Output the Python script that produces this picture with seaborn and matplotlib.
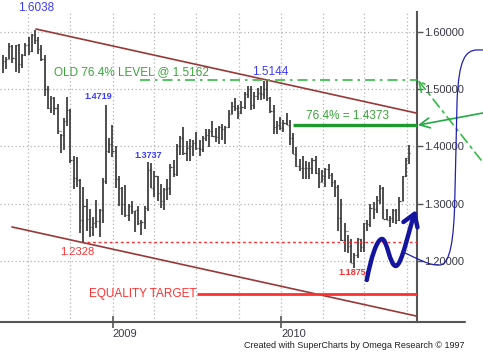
import matplotlib
matplotlib.use("Agg")
import matplotlib.dates as mdates
import matplotlib.pyplot as plt
import numpy as np
import pandas as pd
import seaborn as sns
from matplotlib.lines import Line2D
from matplotlib.patches import FancyArrowPatch
from matplotlib.path import Path

# Weekly EUR/USD bars, one per week, first week starting Monday 2008-05-05
first_week = "2008-05-05"
opens = [1.5460, 1.5485, 1.5535, 1.5760, 1.5545, 1.5770, 1.5440, 1.5600, 1.5780, 1.5675,
         1.5940, 1.5865, 1.5705, 1.5525, 1.5005, 1.4680, 1.4850, 1.4670, 1.4270, 1.4195,
         1.4445, 1.4630, 1.3760, 1.3450, 1.3420, 1.2710, 1.2960, 1.2740, 1.2590, 1.2660,
         1.2700, 1.2890, 1.3390, 1.3920, 1.4050, 1.3920, 1.3440, 1.3270, 1.2990, 1.2800,
         1.2960, 1.2880, 1.2890, 1.2670, 1.2680, 1.2930, 1.3590, 1.3280, 1.3480, 1.3180,
         1.3040, 1.3250, 1.3270, 1.3640, 1.3520, 1.4000, 1.4140, 1.3880, 1.3970, 1.4000,
         1.4060, 1.3970, 1.3960, 1.4140, 1.4200, 1.4270, 1.4190, 1.4170, 1.4340, 1.4300,
         1.4340, 1.4570, 1.4700, 1.4680, 1.4580, 1.4690, 1.4910, 1.5000, 1.4720, 1.4890,
         1.4930, 1.4920, 1.5010, 1.4840, 1.4620, 1.4340, 1.4380, 1.4330, 1.4410, 1.4380,
         1.4140, 1.3870, 1.3660, 1.3630, 1.3620, 1.3630, 1.3630, 1.3770, 1.3530, 1.3380,
         1.3480, 1.3600, 1.3500, 1.3380, 1.3290, 1.2750, 1.2370, 1.2530, 1.2270, 1.1960,
         1.2110, 1.2390, 1.2240, 1.2660, 1.2640, 1.2930, 1.2910, 1.3060, 1.3280, 1.2740,
         1.2710, 1.2750, 1.2890, 1.2710, 1.3050, 1.3490, 1.3790]
highs = [1.5590, 1.5560, 1.5810, 1.5780, 1.5780, 1.5790, 1.5620, 1.5800, 1.5915, 1.5960,
         1.6038, 1.5920, 1.5770, 1.5600, 1.5050, 1.4880, 1.4860, 1.4740, 1.4215, 1.4495,
         1.4865, 1.4660, 1.3830, 1.3810, 1.3440, 1.3300, 1.3090, 1.2910, 1.2770, 1.3070,
         1.2900, 1.3455, 1.4719, 1.4150, 1.4370, 1.4000, 1.3480, 1.3290, 1.3320, 1.3000,
         1.3050, 1.2880, 1.2960, 1.2720, 1.2960, 1.3737, 1.3720, 1.3580, 1.3480, 1.3350,
         1.3270, 1.3440, 1.3690, 1.3770, 1.4050, 1.4180, 1.4340, 1.4100, 1.4130, 1.4110,
         1.4260, 1.4110, 1.4190, 1.4300, 1.4300, 1.4450, 1.4330, 1.4350, 1.4390, 1.4360,
         1.4640, 1.4770, 1.4840, 1.4720, 1.4790, 1.4960, 1.5060, 1.5060, 1.4950, 1.5020,
         1.5060, 1.5144, 1.5140, 1.4870, 1.4720, 1.4440, 1.4510, 1.4460, 1.4580, 1.4460,
         1.4240, 1.3990, 1.3780, 1.3830, 1.3740, 1.3730, 1.3790, 1.3830, 1.3620, 1.3590,
         1.3620, 1.3700, 1.3530, 1.3420, 1.3330, 1.3090, 1.2670, 1.2450, 1.2380, 1.2140,
         1.2400, 1.2390, 1.2660, 1.2720, 1.2990, 1.3030, 1.3130, 1.3330, 1.3290, 1.2900,
         1.2780, 1.2900, 1.2910, 1.3120, 1.3490, 1.3790, 1.4030]
lows = [1.5285, 1.5350, 1.5520, 1.5460, 1.5300, 1.5285, 1.5375, 1.5580, 1.5605, 1.5650,
        1.5785, 1.5620, 1.5485, 1.4880, 1.4660, 1.4580, 1.4545, 1.4210, 1.3885, 1.3945,
        1.4360, 1.3720, 1.3260, 1.3290, 1.2490, 1.2328, 1.2520, 1.2420, 1.2430, 1.2580,
        1.2420, 1.2660, 1.3340, 1.3880, 1.3820, 1.3280, 1.2960, 1.2800, 1.2770, 1.2700,
        1.2820, 1.2510, 1.2620, 1.2460, 1.2560, 1.2880, 1.3270, 1.3110, 1.3040, 1.2930,
        1.2890, 1.3060, 1.3160, 1.3470, 1.3490, 1.3850, 1.3850, 1.3740, 1.3750, 1.3830,
        1.3930, 1.3840, 1.3900, 1.4090, 1.3990, 1.4170, 1.4070, 1.4040, 1.4110, 1.4050,
        1.4320, 1.4560, 1.4620, 1.4480, 1.4560, 1.4650, 1.4850, 1.4630, 1.4660, 1.4810,
        1.4820, 1.4830, 1.4800, 1.4580, 1.4220, 1.4220, 1.4290, 1.4260, 1.4370, 1.4030,
        1.3860, 1.3640, 1.3580, 1.3440, 1.3440, 1.3430, 1.3520, 1.3520, 1.3270, 1.3380,
        1.3300, 1.3430, 1.3300, 1.3110, 1.2520, 1.2350, 1.2150, 1.2140, 1.1960, 1.1875,
        1.2050, 1.2160, 1.2150, 1.2520, 1.2590, 1.2730, 1.2840, 1.3000, 1.2730, 1.2710,
        1.2590, 1.2660, 1.2640, 1.2690, 1.3040, 1.3470, 1.3690]
closes = [1.5485, 1.5535, 1.5760, 1.5545, 1.5770, 1.5440, 1.5600, 1.5780, 1.5675, 1.5940,
          1.5865, 1.5705, 1.5525, 1.5005, 1.4680, 1.4850, 1.4670, 1.4270, 1.4195, 1.4445,
          1.4630, 1.3760, 1.3450, 1.3420, 1.2710, 1.2960, 1.2740, 1.2590, 1.2660, 1.2700,
          1.2890, 1.3390, 1.3920, 1.4050, 1.3920, 1.3440, 1.3270, 1.2990, 1.2800, 1.2960,
          1.2880, 1.2890, 1.2670, 1.2680, 1.2930, 1.3590, 1.3280, 1.3480, 1.3180, 1.3040,
          1.3250, 1.3270, 1.3640, 1.3520, 1.4000, 1.4140, 1.3880, 1.3970, 1.4000, 1.4060,
          1.3970, 1.3960, 1.4140, 1.4200, 1.4270, 1.4190, 1.4170, 1.4340, 1.4300, 1.4340,
          1.4570, 1.4700, 1.4680, 1.4580, 1.4690, 1.4910, 1.5000, 1.4720, 1.4890, 1.4930,
          1.4920, 1.5010, 1.4840, 1.4620, 1.4340, 1.4380, 1.4330, 1.4410, 1.4380, 1.4140,
          1.3870, 1.3660, 1.3630, 1.3620, 1.3630, 1.3630, 1.3770, 1.3530, 1.3380, 1.3480,
          1.3600, 1.3500, 1.3380, 1.3290, 1.2750, 1.2370, 1.2530, 1.2270, 1.1960, 1.2110,
          1.2390, 1.2240, 1.2660, 1.2640, 1.2930, 1.2910, 1.3060, 1.3280, 1.2740, 1.2710,
          1.2750, 1.2890, 1.2710, 1.3050, 1.3490, 1.3790, 1.3880]

price_ticks = [1.2, 1.3, 1.4, 1.5, 1.6]
year_ticks = ["2009-01-01", "2010-01-01"]
year_labels = ["2009", "2010"]

# key levels
old_level = 1.5162
fib_level = 1.4373
low_level = 1.2328
target_level = 1.1424

# trend channel (two touch points each)
upper_dates = ["2008-07-18", "2010-10-21"]
upper_prices = [1.6052, 1.4585]
lower_dates = ["2008-05-27", "2010-10-21"]
lower_prices = [1.2594, 1.1039]

# projected path drawn by hand on the chart (bezier anchors + controls)
wave_dates = ["2010-07-06", "2010-07-15", "2010-07-28", "2010-08-08", "2010-08-19", "2010-08-25",
              "2010-09-07", "2010-09-20", "2010-10-06", "2010-10-21"]
wave_prices = [1.1668, 1.2052, 1.2384, 1.2384, 1.2384, 1.1913, 1.1913, 1.1913, 1.2576, 1.2891]
brace_dates = ["2010-09-23", "2010-10-25", "2010-11-20", "2010-12-12", "2011-01-03", "2011-01-11",
               "2011-01-13", "2011-01-18", "2011-01-22", "2011-02-04", "2011-03-04", "2011-03-15"]
brace_prices = [1.2157, 1.2035, 1.1913, 1.1930, 1.1948, 1.2367, 1.3066, 1.4812, 1.5511, 1.5686,
                1.5686, 1.5686]

GREEN = "#3aa53a"
RED = "#ff3030"
BLUE = "#3c3cff"
CHANNEL = "#983838"
BAR = "#404040"

sns.set_theme(style="white")
plt.rcParams["font.family"] = ["Liberation Sans", "DejaVu Sans"]

d = mdates.datestr2num
weeks = pd.date_range(first_week, periods=len(highs), freq="7D")
xb = mdates.date2num(weeks) + 2
x_right = d("2010-10-23")

fig = plt.figure(figsize=(4.83, 3.57), dpi=100)
ax = fig.add_axes([0, 35 / 357, 417 / 483, 310 / 357])

# OHLC bars: high-low line, open tick left, close tick right
ax.vlines(xb, lows, highs, color=BAR, lw=1.3, zorder=3)
ax.hlines(opens, xb - 2.5, xb, color=BAR, lw=0.9, zorder=3)
ax.hlines(closes, xb, xb + 2.5, color=BAR, lw=0.9, zorder=3)

sns.lineplot(x=d(upper_dates), y=upper_prices, ax=ax, color=CHANNEL, lw=1.2, zorder=4)
sns.lineplot(x=d(lower_dates), y=lower_prices, ax=ax, color=CHANNEL, lw=1.2, zorder=4)

ax.hlines(old_level, d("2009-02-28"), x_right, color="#33bb44", lw=1.2,
          linestyles=(0, (6, 3, 1.5, 3)), zorder=4)
ax.hlines(fib_level, d("2010-01-27"), x_right, color="#1f9a2f", lw=2.4, zorder=4)
ax.hlines(low_level, d("2008-11-06"), x_right, color=RED, lw=1.0, linestyles=(0, (2, 2)), zorder=4)
ax.hlines(target_level, d("2009-07-02"), x_right, color=RED, lw=2.0, zorder=4)

# labels
ax.text(d("2008-07-18"), 1.6419, "1.6038", color=BLUE, fontsize=8.5, ha="center", va="center")
ax.text(d("2008-11-30"), 1.4865, "1.4719", color=BLUE, fontsize=6.5, fontweight="bold",
        ha="center", va="center")
ax.text(d("2009-03-18"), 1.3834, "1.3737", color=BLUE, fontsize=6.5, fontweight="bold",
        ha="center", va="center")
ax.text(d("2009-12-08"), 1.5300, "1.5144", color=BLUE, fontsize=8.5, ha="center", va="center")
ax.text(d("2008-10-15"), 1.2157, "1.2328", color=RED, fontsize=8, ha="center", va="center")
ax.text(d("2010-06-04"), 1.1790, "1.1875", color=RED, fontsize=6.5, fontweight="bold",
        ha="center", va="center")
ax.text(d("2009-02-11"), 1.5300, "OLD 76.4% LEVEL @ 1.5162", color=GREEN, fontsize=8.5,
        ha="center", va="center")
ax.text(d("2010-05-26"), 1.4533, "76.4% = 1.4373", color=GREEN, fontsize=8.5,
        ha="center", va="center")
ax.text(d("2009-07-01"), target_level, "EQUALITY TARGET", color=RED, fontsize=8.5,
        ha="right", va="center")

# hand-drawn projection wave with arrow
verts = list(zip(d(wave_dates), wave_prices))
codes = [Path.MOVETO] + [Path.CURVE4] * 9
wave = FancyArrowPatch(path=Path(verts, codes), arrowstyle="->,head_length=0.7,head_width=0.45",
                       mutation_scale=12, color="#14149e", lw=3.2, zorder=6,
                       transform=ax.transData, clip_on=False)
ax.add_patch(wave)

bverts = list(zip(d(brace_dates), brace_prices))
bcodes = [Path.MOVETO, Path.CURVE4, Path.CURVE4, Path.CURVE4, Path.CURVE4, Path.CURVE4,
          Path.CURVE4, Path.LINETO, Path.CURVE4, Path.CURVE4, Path.CURVE4, Path.LINETO]
brace = FancyArrowPatch(path=Path(bverts, bcodes), arrowstyle="-", color="#2020b0", lw=0.9,
                        zorder=6, transform=ax.transData, clip_on=False)
ax.add_patch(brace)

ax.annotate("", xy=(d("2010-10-25"), old_level), xytext=(d("2011-03-11"), 1.3764),
            xycoords="data", annotation_clip=False,
            arrowprops=dict(arrowstyle="->,head_length=0.6,head_width=0.3", color="#33bb44",
                            lw=1.2, linestyle=(0, (6, 3, 1.5, 3)), shrinkA=0, shrinkB=0))
ax.annotate("", xy=(d("2010-10-25"), fib_level), xytext=(d("2011-03-15"), 1.4585),
            xycoords="data", annotation_clip=False,
            arrowprops=dict(arrowstyle="->,head_length=0.6,head_width=0.3", color="#22aa44",
                            lw=1.2, shrinkA=0, shrinkB=0))

# axes styling
ax.set_xlim(d("2008-05-01"), x_right)
ax.set_ylim(1.0934, 1.6349)
ax.yaxis.tick_right()
ax.set_yticks(price_ticks)
ax.set_yticklabels([f"{v:.5f}" for v in price_ticks])
ax.set_xticks(d(year_ticks))
ax.set_xticklabels(year_labels, ha="left")
ax.set_xticks(mdates.date2num(pd.date_range("2008-07-01", "2010-10-01", freq="QS")), minor=True)
ax.tick_params(axis="y", right=True, length=4, width=1, color="#555555", pad=1,
               labelsize=8, labelcolor="#383848")
ax.tick_params(axis="x", bottom=True, direction="inout", length=8, width=1.2, color="#555555",
               pad=1, labelsize=8, labelcolor="#383848")
ax.tick_params(axis="x", which="minor", length=0)
ax.grid(True, which="both", axis="x", color="#b4b4b4", lw=0.9, linestyle=(0, (1, 2)))
ax.grid(True, which="major", axis="y", color="#b4b4b4", lw=0.9, linestyle=(0, (1, 2)))
for side in ["left", "top"]:
    ax.spines[side].set_visible(False)
for side in ["right", "bottom"]:
    ax.spines[side].set_color("#555555")
    ax.spines[side].set_linewidth(1.5)

fig.add_artist(Line2D([417 / 483, 465 / 483], [35 / 357, 35 / 357], color="#555555", lw=1.5))
fig.text(465 / 483, 1 - 345 / 357, "Created with SuperCharts by Omega Research \u00a9 1997",
         fontsize=6.5, ha="right", va="center", color="#202020")

fig.savefig("out.png", dpi=100)
